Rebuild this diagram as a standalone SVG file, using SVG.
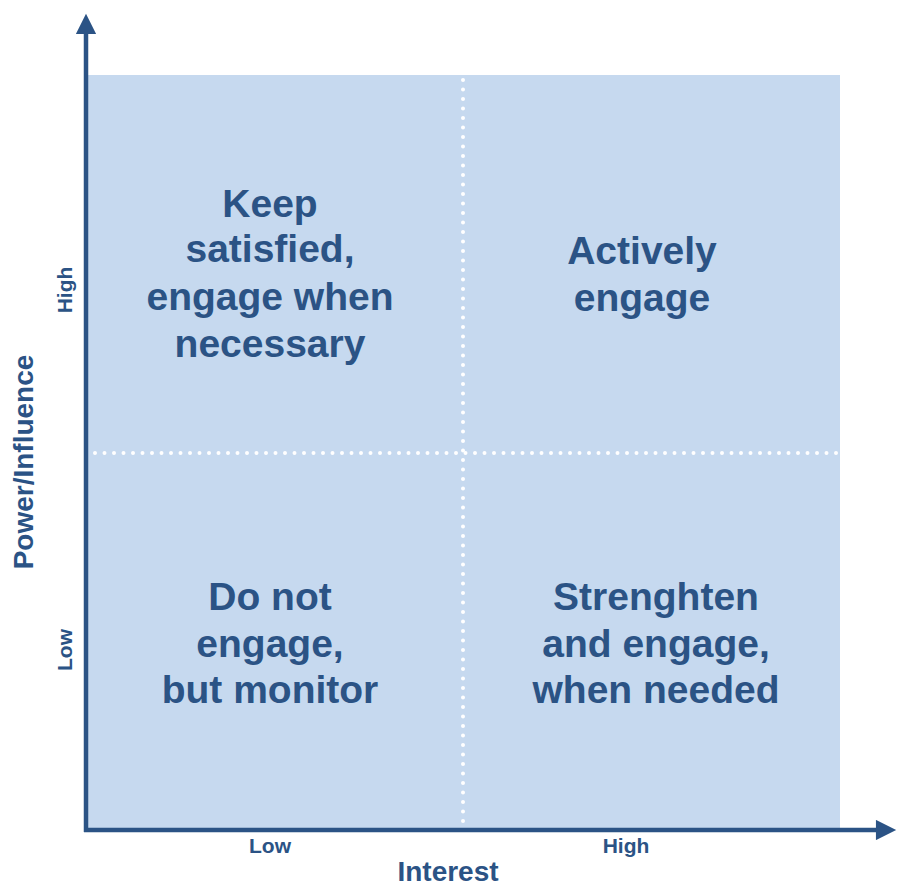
<svg xmlns="http://www.w3.org/2000/svg" width="897" height="887" viewBox="0 0 897 887">
<style>
.q{font-family:"Liberation Sans",Arial,sans-serif;font-weight:bold;font-size:39px;fill:#2b5385;text-anchor:middle}
.ax{font-family:"Liberation Sans",Arial,sans-serif;font-weight:bold;font-size:28px;fill:#2b5385;text-anchor:middle}
.tk{font-family:"Liberation Sans",Arial,sans-serif;font-weight:bold;font-size:21px;fill:#2b5385;text-anchor:middle}
.dot{stroke:#ffffff;stroke-width:4;stroke-linecap:round;stroke-dasharray:0 9.5;fill:none}
.axis{stroke:#2b5385;stroke-width:4.5;fill:none}
</style>
<defs>
<marker id="ah" viewBox="0 0 10 10" refX="2" refY="5" markerWidth="5" markerHeight="4.5" markerUnits="strokeWidth" orient="auto">
<path d="M0,0 L10,5 L0,10 z" fill="#2b5385"/>
</marker>
</defs>
<rect x="87" y="75" width="753" height="755" fill="#c6d9ef"/>
<g id="grid">
<line class="dot" x1="463" y1="80" x2="463" y2="828"/>
<line class="dot" x1="95" y1="453" x2="838" y2="453"/>
</g>
<g id="connectors">
<line class="axis" x1="86" y1="832" x2="86" y2="30" marker-end="url(#ah)"/>
<line class="axis" x1="84" y1="830" x2="880" y2="830" marker-end="url(#ah)"/>
</g>
<g id="q-keep-satisfied">
<text class="q" x="270" y="217">Keep</text>
<text class="q" x="270" y="262">satisfied,</text>
<text class="q" x="270" y="310">engage when</text>
<text class="q" x="270" y="357">necessary</text>
</g>
<g id="q-actively-engage">
<text class="q" x="642" y="264">Actively</text>
<text class="q" x="642" y="311">engage</text>
</g>
<g id="q-do-not-engage">
<text class="q" x="270" y="610">Do not</text>
<text class="q" x="270" y="657">engage,</text>
<text class="q" x="270" y="703">but monitor</text>
</g>
<g id="q-strengthen">
<text class="q" x="656" y="610">Strenghten</text>
<text class="q" x="656" y="657">and engage,</text>
<text class="q" x="656" y="703">when needed</text>
</g>
<g id="labels">
<text class="tk" x="270" y="853">Low</text>
<text class="tk" x="626" y="853">High</text>
<text class="ax" x="448" y="881">Interest</text>
<text class="ax" transform="translate(33,462) rotate(-90)">Power/Influence</text>
<text class="tk" transform="translate(72,290) rotate(-90)">High</text>
<text class="tk" transform="translate(72,650) rotate(-90)">Low</text>
</g>
</svg>
